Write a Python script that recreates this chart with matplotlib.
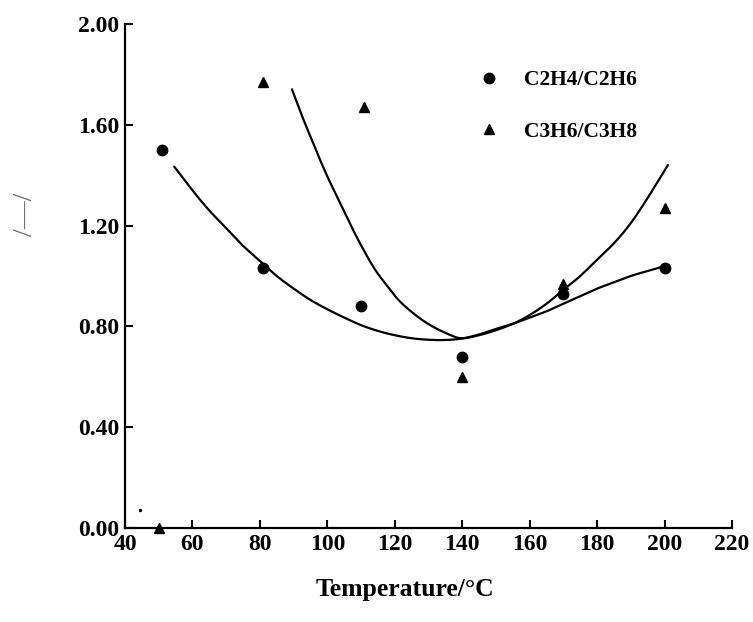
import matplotlib
matplotlib.use("Agg")
import matplotlib.pyplot as plt
import numpy as np
from matplotlib.lines import Line2D

# measured points
c2_temp = [51, 81, 110, 140, 170, 200]
c2_ratio = [1.50, 1.03, 0.88, 0.68, 0.93, 1.03]

c3_temp = [50, 81, 111, 140, 170, 200]
c3_ratio = [0.0, 1.77, 1.67, 0.60, 0.97, 1.27]

# fitted curves
c2_fit_temp = [54.6, 60, 65, 70, 75, 80, 85, 90, 95, 100, 105, 110, 115, 120, 125, 130, 135, 140,
               145, 150, 155, 160, 165, 170, 175, 180, 185, 190, 195, 199]
c2_fit_ratio = [1.434, 1.34, 1.26, 1.19, 1.12, 1.06, 1.0, 0.95, 0.905, 0.868, 0.835, 0.805, 0.782,
                0.765, 0.753, 0.747, 0.746, 0.752,
                0.768, 0.79, 0.81, 0.835, 0.86, 0.89, 0.92, 0.95, 0.975, 1.0, 1.02, 1.035]

c3_fit_temp = [89.5, 92.5, 95.8, 99.5, 103.8, 108.5, 113.6, 117.5, 121.1, 125.5, 130.5, 136.4, 140,
               145, 150, 155, 160, 165, 170, 175, 180, 185, 190, 195, 201]
c3_fit_ratio = [1.741, 1.635, 1.527, 1.41, 1.289, 1.16, 1.037, 0.965, 0.905, 0.852, 0.805, 0.766, 0.753,
                0.765, 0.785, 0.81, 0.845, 0.89, 0.945, 1.0, 1.065, 1.13, 1.21, 1.31, 1.44]

specks_x = [44.5]
specks_y = [0.07]

xticks = [40, 60, 80, 100, 120, 140, 160, 180, 200, 220]
yticks = [0.0, 0.4, 0.8, 1.2, 1.6, 2.0]


def smooth(xs, ys, n=12):
    # catmull-rom pass through the read points, only for drawing
    x = np.asarray(xs, float)
    y = np.asarray(ys, float)
    px = np.concatenate([[2 * x[0] - x[1]], x, [2 * x[-1] - x[-2]]])
    py = np.concatenate([[2 * y[0] - y[1]], y, [2 * y[-1] - y[-2]]])
    t = np.linspace(0, 1, n, endpoint=False)
    outx, outy = [], []
    for i in range(1, len(px) - 2):
        for arr, out in ((px, outx), (py, outy)):
            p0, p1, p2, p3 = arr[i - 1], arr[i], arr[i + 1], arr[i + 2]
            out.extend(0.5 * (2 * p1 + (-p0 + p2) * t + (2 * p0 - 5 * p1 + 4 * p2 - p3) * t ** 2
                              + (-p0 + 3 * p1 - 3 * p2 + p3) * t ** 3))
    outx.append(x[-1])
    outy.append(y[-1])
    return outx, outy


plt.rcParams["font.family"] = ["Liberation Serif", "DejaVu Serif"]

fig = plt.figure(figsize=(7.53, 6.22), dpi=100)
ax = fig.add_axes([125 / 753, 1 - 528 / 622, 607 / 753, 504 / 622])

ax.plot(*smooth(c2_fit_temp, c2_fit_ratio), color="black", lw=1.6, solid_capstyle="round")
ax.plot(*smooth(c3_fit_temp, c3_fit_ratio), color="black", lw=1.6, solid_capstyle="round")
ax.plot(c2_temp, c2_ratio, "o", color="black", ms=7.5, clip_on=False)
ax.plot(c3_temp, c3_ratio, "^", color="black", ms=7, clip_on=False)
ax.plot(specks_x, specks_y, ".", color="black", ms=3)

ax.set_xlim(40, 220)
ax.set_ylim(0, 2.0)
ax.set_xticks(xticks)
ax.set_yticks(yticks)
ax.set_yticklabels([f"{v:.2f}" for v in yticks])
for s in ["top", "right"]:
    ax.spines[s].set_visible(False)
for s in ["left", "bottom"]:
    ax.spines[s].set_linewidth(1.6)
ax.tick_params(direction="in", length=6, width=1.5, labelsize=17, pad=4)
for lab in ax.get_xticklabels() + ax.get_yticklabels():
    lab.set_fontweight("bold")

ax.set_xlabel("Temperature/\u00b0C", fontsize=18.5, fontweight="bold")
ax.xaxis.set_label_coords((405 - 125) / 607, (528 - 578) / 504)
ax.set_ylabel("/\u2014/", fontsize=20, color="#6a6a6a")
ax.yaxis.set_label_coords((38 - 125) / 607, (528 - 214) / 504)

handles = [
    Line2D([], [], marker="o", color="black", ls="none", ms=7.5),
    Line2D([], [], marker="^", color="black", ls="none", ms=7),
]
ax.legend(handles, ["C2H4/C2H6", "C3H6/C3H8"], loc="upper left",
          bbox_to_anchor=(459 / 753, 1 - 51 / 622), bbox_transform=fig.transFigure,
          frameon=False, prop={"family": "Liberation Serif", "weight": "bold", "size": 15.5},
          handletextpad=1.1, labelspacing=1.45, handlelength=1.0)

fig.savefig("out.png", dpi=100)
